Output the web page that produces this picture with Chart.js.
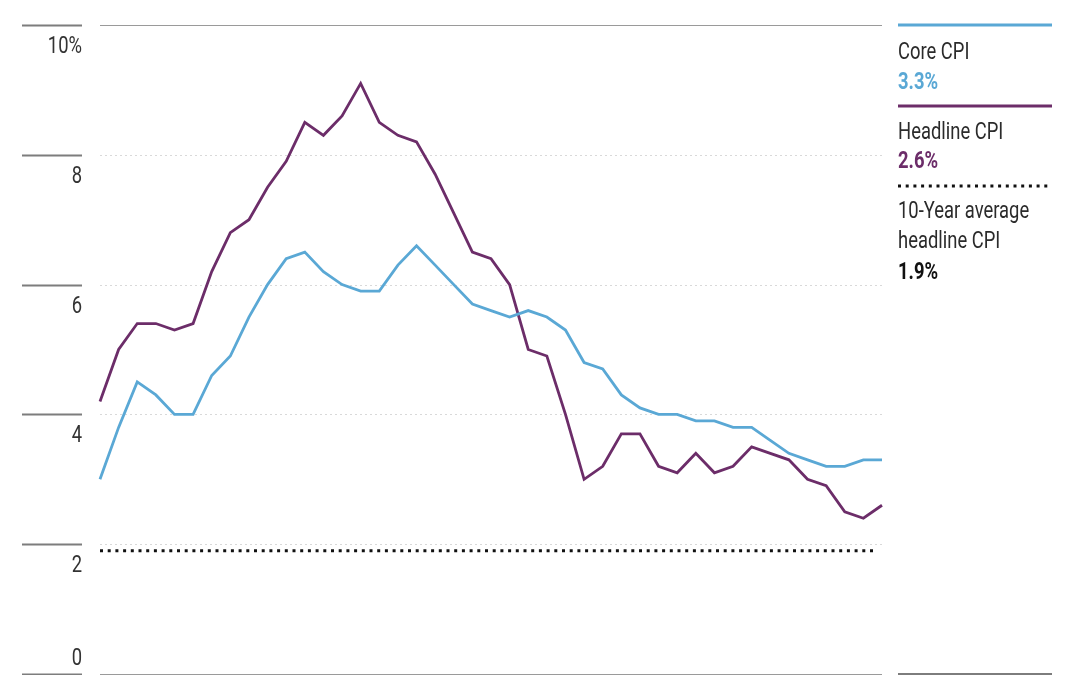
<!DOCTYPE html>
<html>
<head>
<meta charset="utf-8">
<script src="https://cdn.jsdelivr.net/npm/chart.js@4"></script>
<style>
  html, body { margin: 0; padding: 0; background: #fff; }
  #wrap { width: 1080px; height: 675px; }
</style>
</head>
<body>
<div id="wrap"><canvas id="cpi-chart" width="1080" height="675"></canvas></div>
<script>
// month labels, Apr 2021 - Oct 2024
const months = [
  "Apr 2021", "May 2021", "Jun 2021", "Jul 2021", "Aug 2021", "Sep 2021", "Oct 2021", "Nov 2021", "Dec 2021",
  "Jan 2022", "Feb 2022", "Mar 2022", "Apr 2022", "May 2022", "Jun 2022", "Jul 2022", "Aug 2022", "Sep 2022",
  "Oct 2022", "Nov 2022", "Dec 2022", "Jan 2023", "Feb 2023", "Mar 2023", "Apr 2023", "May 2023", "Jun 2023",
  "Jul 2023", "Aug 2023", "Sep 2023", "Oct 2023", "Nov 2023", "Dec 2023", "Jan 2024", "Feb 2024", "Mar 2024",
  "Apr 2024", "May 2024", "Jun 2024", "Jul 2024", "Aug 2024", "Sep 2024", "Oct 2024"
];

const coreCPI = [
  3.0, 3.8, 4.5, 4.3, 4.0, 4.0, 4.6, 4.9, 5.5,
  6.0, 6.4, 6.5, 6.2, 6.0, 5.9, 5.9, 6.3, 6.6,
  6.3, 6.0, 5.7, 5.6, 5.5, 5.6, 5.5, 5.3, 4.8,
  4.7, 4.3, 4.1, 4.0, 4.0, 3.9, 3.9, 3.8, 3.8,
  3.6, 3.4, 3.3, 3.2, 3.2, 3.3, 3.3
];

const headlineCPI = [
  4.2, 5.0, 5.4, 5.4, 5.3, 5.4, 6.2, 6.8, 7.0,
  7.5, 7.9, 8.5, 8.3, 8.6, 9.1, 8.5, 8.3, 8.2,
  7.7, 7.1, 6.5, 6.4, 6.0, 5.0, 4.9, 4.0, 3.0,
  3.2, 3.7, 3.7, 3.2, 3.1, 3.4, 3.1, 3.2, 3.5,
  3.4, 3.3, 3.0, 2.9, 2.5, 2.4, 2.6
];

const avgCPI = 1.9;
const yTicks = [0, 2, 4, 6, 8, 10];

const BLUE = "#5aa8d5";
const PURPLE = "#6c2d69";
const INK = "#2b2b2b";
const FONT = "Roboto, 'Liberation Sans', sans-serif";
const SQUEEZE = 0.8; // the original type is condensed

// text drawn narrower, anchored at x
function narrowText(ctx, text, x, y, align) {
  ctx.save();
  ctx.translate(x, y);
  ctx.scale(SQUEEZE, 1);
  ctx.textAlign = align;
  ctx.fillText(text, 0, 0);
  ctx.restore();
}

// grid, left tick marks, average line and the side legend
const decorations = {
  id: "decorations",
  beforeDatasetsDraw(chart) {
    const { ctx, chartArea, scales } = chart;
    const y = scales.y;
    ctx.save();
    yTicks.forEach((v) => {
      const py = Math.round(y.getPixelForValue(v)) + 0.5;
      ctx.beginPath();
      if (v === 0 || v === yTicks[yTicks.length - 1]) {
        ctx.strokeStyle = "#9a9a9a";
        ctx.lineWidth = 1.2;
        ctx.setLineDash([]);
      } else {
        ctx.strokeStyle = "#d9d9d9";
        ctx.lineWidth = 1;
        ctx.setLineDash([2, 3]);
      }
      ctx.moveTo(chartArea.left, py);
      ctx.lineTo(chartArea.right, py);
      ctx.stroke();
    });
    ctx.setLineDash([]);

    // 10-year average
    const ay = y.getPixelForValue(avgCPI);
    ctx.beginPath();
    ctx.strokeStyle = "#111";
    ctx.lineWidth = 3;
    ctx.setLineDash([3, 4.7]);
    ctx.moveTo(chartArea.left, ay);
    ctx.lineTo(chartArea.right - 7, ay);
    ctx.stroke();
    ctx.restore();
  },
  afterDraw(chart) {
    const { ctx, scales } = chart;
    const y = scales.y;
    ctx.save();

    // left tick marks + labels
    ctx.font = "23px " + FONT;
    ctx.fillStyle = "#333";
    ctx.textBaseline = "alphabetic";
    yTicks.forEach((v) => {
      const py = Math.round(y.getPixelForValue(v)) + 0.5;
      ctx.beginPath();
      ctx.strokeStyle = "#7d7d7d";
      ctx.lineWidth = 2;
      ctx.moveTo(22, py);
      ctx.lineTo(82, py);
      ctx.stroke();
      const label = v === 10 ? "10%" : String(v);
      const ty = v === 0 ? py - 10 : py + 27;
      narrowText(ctx, label, 82, ty, "right");
    });

    // legend on the right
    const lx = 898, rx = 1052;
    const rule = (py, color, dash) => {
      ctx.beginPath();
      ctx.strokeStyle = color;
      ctx.lineWidth = 3;
      ctx.setLineDash(dash || []);
      ctx.moveTo(lx, py);
      ctx.lineTo(rx, py);
      ctx.stroke();
      ctx.setLineDash([]);
    };
    rule(25, BLUE);
    ctx.font = "23px " + FONT;
    ctx.fillStyle = INK;
    narrowText(ctx, "Core CPI", lx, 59, "left");
    ctx.font = "bold 23px " + FONT;
    ctx.fillStyle = BLUE;
    narrowText(ctx, coreCPI[coreCPI.length - 1].toFixed(1) + "%", lx, 89, "left");

    rule(106, PURPLE);
    ctx.font = "23px " + FONT;
    ctx.fillStyle = INK;
    narrowText(ctx, "Headline CPI", lx, 139, "left");
    ctx.font = "bold 23px " + FONT;
    ctx.fillStyle = PURPLE;
    narrowText(ctx, headlineCPI[headlineCPI.length - 1].toFixed(1) + "%", lx, 168, "left");

    rule(186, "#111", [3, 4.7]);
    ctx.font = "23px " + FONT;
    ctx.fillStyle = INK;
    narrowText(ctx, "10-Year average", lx, 218, "left");
    narrowText(ctx, "headline CPI", lx, 248, "left");
    ctx.font = "bold 23px " + FONT;
    ctx.fillStyle = "#111";
    narrowText(ctx, avgCPI.toFixed(1) + "%", lx, 279, "left");

    // bottom rule under legend
    ctx.beginPath();
    ctx.strokeStyle = "#7d7d7d";
    ctx.lineWidth = 2;
    ctx.moveTo(lx, 674);
    ctx.lineTo(rx, 674);
    ctx.stroke();
    ctx.restore();
  }
};

new Chart(document.getElementById("cpi-chart").getContext("2d"), {
  type: "line",
  data: {
    labels: months,
    datasets: [
      {
        label: "Core CPI",
        data: coreCPI,
        borderColor: BLUE,
        borderWidth: 2.8,
        pointRadius: 0,
        tension: 0,
        clip: 4,
      },
      {
        label: "Headline CPI",
        data: headlineCPI,
        borderColor: PURPLE,
        borderWidth: 2.8,
        pointRadius: 0,
        tension: 0,
        clip: 4,
      },
    ],
  },
  options: {
    responsive: false,
    animation: false,
    layout: { padding: { left: 100, right: 198, top: 25, bottom: 1 } },
    plugins: {
      legend: { display: false },
      tooltip: { enabled: false },
    },
    scales: {
      x: { display: false, offset: false },
      y: { display: false, min: 0, max: 10 },
    },
  },
  plugins: [decorations],
});
</script>
</body>
</html>
